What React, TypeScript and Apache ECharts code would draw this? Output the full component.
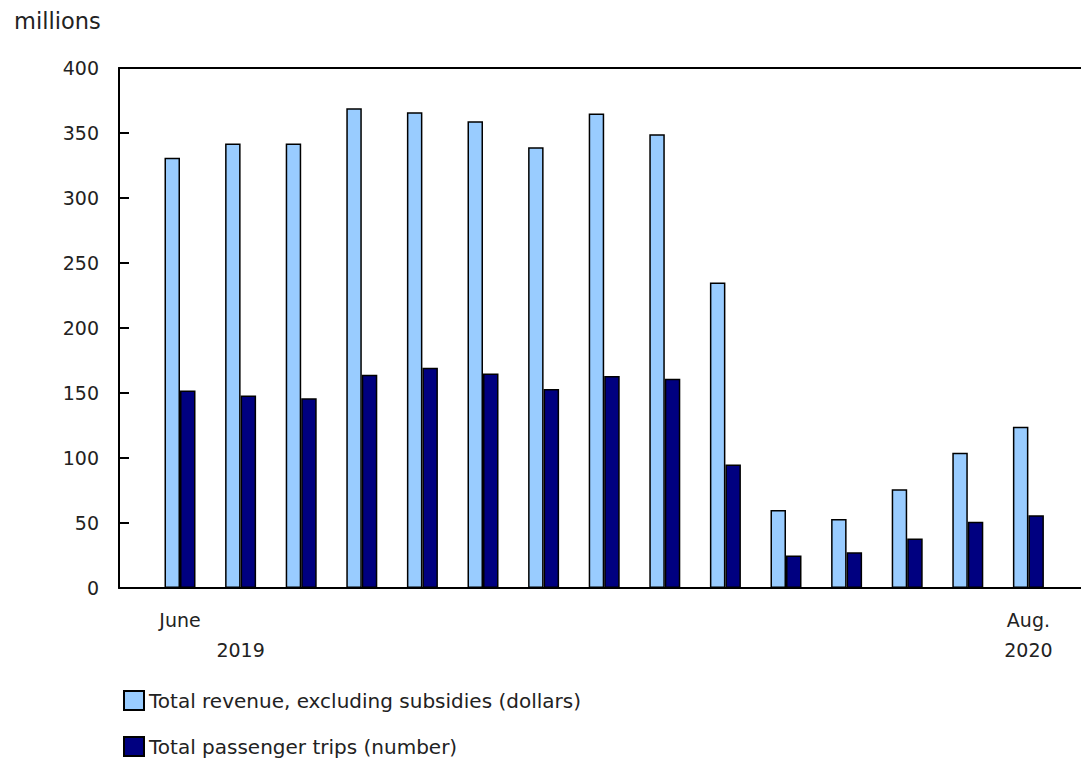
import React, { useEffect, useRef } from "react";
import * as echarts from "echarts";

const months = [
  "June 2019", "July 2019", "Aug. 2019", "Sept. 2019", "Oct. 2019", "Nov. 2019", "Dec. 2019",
  "Jan. 2020", "Feb. 2020", "Mar. 2020", "Apr. 2020", "May 2020", "June 2020", "July 2020", "Aug. 2020",
];
const tickLabels = ["June\n", "\n2019", "", "", "", "", "", "", "", "", "", "", "", "", "Aug.\n2020"];
const revenue = [331, 342, 342, 369, 366, 359, 339, 365, 349, 235, 60, 53, 76, 104, 124];
const trips = [152, 148, 146, 164, 169.5, 165, 153, 163, 161, 95, 25, 27.5, 38, 51, 56];
const yTicks = { min: 0, max: 400, interval: 50 };
const seriesNames = ["Total revenue, excluding subsidies (dollars)", "Total passenger trips (number)"];

const FONT = "DejaVu Sans";

export default function App() {
  const ref = useRef<HTMLDivElement>(null);
  useEffect(() => {
    const chart = echarts.init(ref.current!, null, { renderer: "svg" });
    const axisLineStyle = { color: "#000", width: 2 };
    const legendBase = {
      orient: "vertical",
      left: 118,
      itemWidth: 20,
      itemHeight: 19,
      icon: "rect",
      textStyle: { fontFamily: FONT, fontSize: 20, color: "#222", padding: [0, 0, 0, 0] },
    };
    chart.setOption({
      animation: false,
      textStyle: { fontFamily: FONT },
      title: {
        text: "millions",
        left: 9,
        top: 4,
        textStyle: { fontFamily: FONT, fontSize: 22.5, fontWeight: "normal", color: "#222" },
      },
      grid: [
        { left: 119, right: 0, top: 68, bottom: 171 },
        { left: 149.7, right: 22.3, top: 68, bottom: 171 },
      ],
      xAxis: [
        {
          type: "value", gridIndex: 0, position: "bottom", min: 0, max: 1,
          axisLine: { show: true, onZero: false, lineStyle: axisLineStyle },
          axisTick: { show: false }, axisLabel: { show: false }, splitLine: { show: false },
        },
        {
          type: "value", gridIndex: 0, position: "top", min: 0, max: 1,
          axisLine: { show: true, onZero: false, lineStyle: axisLineStyle },
          axisTick: { show: false }, axisLabel: { show: false }, splitLine: { show: false },
        },
        {
          type: "category", gridIndex: 1, data: months,
          axisLine: { show: false }, axisTick: { show: false },
          axisLabel: {
            interval: 0,
            margin: 17,
            fontFamily: FONT,
            fontSize: 19,
            color: "#222",
            lineHeight: 30,
            formatter: (_v: string, i: number) => tickLabels[i],
          },
        },
      ],
      yAxis: [
        {
          type: "value", gridIndex: 0, ...yTicks,
          axisLine: { show: true, lineStyle: axisLineStyle },
          axisTick: { show: true, inside: true, length: 10, lineStyle: axisLineStyle },
          axisLabel: { margin: 20, fontFamily: FONT, fontSize: 19, color: "#222" },
          splitLine: { show: false },
        },
        {
          type: "value", gridIndex: 1, ...yTicks, show: false, splitLine: { show: false },
        },
      ],
      legend: [
        { ...legendBase, top: 685, data: [seriesNames[0]] },
        { ...legendBase, top: 731, data: [seriesNames[1]] },
      ],
      series: [
        {
          name: seriesNames[0], type: "bar", xAxisIndex: 2, yAxisIndex: 1, data: revenue,
          barWidth: 15.5, barGap: "0%",
          itemStyle: { color: "#99CCFF", borderColor: "#000", borderWidth: 1.5 },
        },
        {
          name: seriesNames[1], type: "bar", xAxisIndex: 2, yAxisIndex: 1, data: trips,
          barWidth: 15.5, barGap: "0%",
          itemStyle: { color: "#000080", borderColor: "#000", borderWidth: 1.5 },
        },
      ],
    });
    return () => chart.dispose();
  }, []);
  return (
    <div
      ref={ref}
      style={{ position: "fixed", left: 0, top: 0, width: 1081, height: 759, background: "#fff" }}
    />
  );
}
